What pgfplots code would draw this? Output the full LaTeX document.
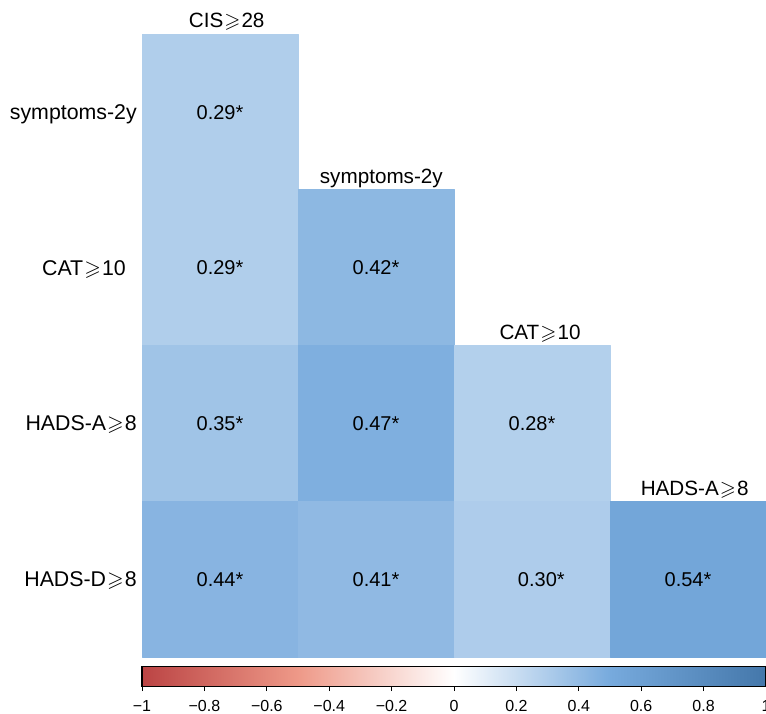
\documentclass[border=0pt]{standalone}
\usepackage{amssymb}
\usepackage{pgfplots}
\pgfplotsset{compat=1.18}
\usepackage{fontspec}
\setmainfont{Liberation Sans}
\newcommand{\gs}{\kern0.8pt$\geqslant$\kern0.8pt}
\begin{document}
\begin{tikzpicture}[every node/.style={font=\fontsize{15}{18}\selectfont}]
\begin{axis}[name=ax,
  width=468pt, height=467.25pt, scale only axis,
  xmin=-0.5, xmax=3.5, ymin=0.5, ymax=4.5,
  axis line style={draw=none}, xtick=\empty, ytick=\empty,
  clip=false,
  colormap={corr}{rgb255=(187,68,68) rgb255=(238,153,136) rgb255=(255,255,255) rgb255=(119,170,221) rgb255=(68,119,170)},
  point meta min=-1, point meta max=1,
  colorbar horizontal,
  colorbar style={
    at={(parent axis.south west)}, anchor=north west, yshift=1.5pt,
    scale only axis, width=468pt, height=15pt,
    axis line style={black, line width=0.8pt},
    xtick={-1,-0.8,-0.6,-0.4,-0.2,0,0.2,0.4,0.6,0.8,1},
    xticklabels={−1,−0.8,−0.6,−0.4,−0.2,0,0.2,0.4,0.6,0.8,1},
    xtick pos=left, xticklabel pos=lower, ytick=\empty,
    tick align=outside, major tick length=3.5pt,
    every tick/.style={black, line width=0.6pt},
    xticklabel style={font=\fontsize{12}{14}\selectfont, yshift=-3.5pt},
  },
]
% each cell: four corners, all with the cell's correlation
\addplot[patch, patch type=rectangle, shader=flat, point meta=explicit]
  table[meta=c] {
x y c
-0.5 3.5 0.29
0.5 3.5 0.29
0.5 4.5 0.29
-0.5 4.5 0.29
-0.5 2.5 0.29
0.5 2.5 0.29
0.5 3.5 0.29
-0.5 3.5 0.29
-0.5 1.5 0.35
0.5 1.5 0.35
0.5 2.5 0.35
-0.5 2.5 0.35
-0.5 0.5 0.44
0.5 0.5 0.44
0.5 1.5 0.44
-0.5 1.5 0.44
0.5 2.5 0.42
1.5 2.5 0.42
1.5 3.5 0.42
0.5 3.5 0.42
0.5 1.5 0.47
1.5 1.5 0.47
1.5 2.5 0.47
0.5 2.5 0.47
0.5 0.5 0.41
1.5 0.5 0.41
1.5 1.5 0.41
0.5 1.5 0.41
1.5 1.5 0.28
2.5 1.5 0.28
2.5 2.5 0.28
1.5 2.5 0.28
1.5 0.5 0.30
2.5 0.5 0.30
2.5 1.5 0.30
1.5 1.5 0.30
2.5 0.5 0.54
3.5 0.5 0.54
3.5 1.5 0.54
2.5 1.5 0.54
};
% cell texts
\node[anchor=base, yshift=-5.4pt] at (axis cs:0,4) {0.29*};
\node[anchor=base, yshift=-5.4pt] at (axis cs:0,3) {0.29*};
\node[anchor=base, yshift=-5.4pt] at (axis cs:0,2) {0.35*};
\node[anchor=base, yshift=-5.4pt] at (axis cs:0,1) {0.44*};
\node[anchor=base, yshift=-5.4pt] at (axis cs:1,3) {0.42*};
\node[anchor=base, yshift=-5.4pt] at (axis cs:1,2) {0.47*};
\node[anchor=base, yshift=-5.4pt] at (axis cs:1,1) {0.41*};
\node[anchor=base, yshift=-5.4pt] at (axis cs:2,2) {0.28*};
\node[anchor=base, yshift=-5.4pt, xshift=7pt] at (axis cs:2,1) {0.30*};
\node[anchor=base, yshift=-5.4pt] at (axis cs:3,1) {0.54*};
% column labels
\begin{scope}[every node/.style={font=\fontsize{15.5}{18}\selectfont}]
\node[anchor=base, xshift=5pt, yshift=4.5pt] at (axis cs:0,4.5) {CIS\gs28};
\node[anchor=base, xshift=4pt, yshift=4.5pt] at (axis cs:1,3.5) {symptoms-2y};
\node[anchor=base, xshift=6pt, yshift=4.5pt] at (axis cs:2,2.5) {CAT\gs10};
\node[anchor=base, xshift=5pt, yshift=4.5pt] at (axis cs:3,1.5) {HADS-A\gs8};
\end{scope}
% row labels
\begin{scope}[every node/.style={font=\fontsize{16}{19}\selectfont}]
\node[inner sep=0pt, anchor=base east, xshift=-3.75pt, yshift=-5.6pt] at (axis cs:-0.5,4) {symptoms-2y};
\node[inner sep=0pt, anchor=base east, xshift=-12pt, yshift=-5.6pt] at (axis cs:-0.5,3) {CAT\gs10};
\node[inner sep=0pt, anchor=base east, xshift=-3.75pt, yshift=-5.6pt] at (axis cs:-0.5,2) {HADS-A\gs8};
\node[inner sep=0pt, anchor=base east, xshift=-3.75pt, yshift=-5.6pt] at (axis cs:-0.5,1) {HADS-D\gs8};
\end{scope}
\end{axis}
\pgfresetboundingbox
\path ([xshift=-106.5pt, yshift=-42pt]ax.south west) rectangle ([yshift=25.5pt]ax.north east);
\end{tikzpicture}
\end{document}
